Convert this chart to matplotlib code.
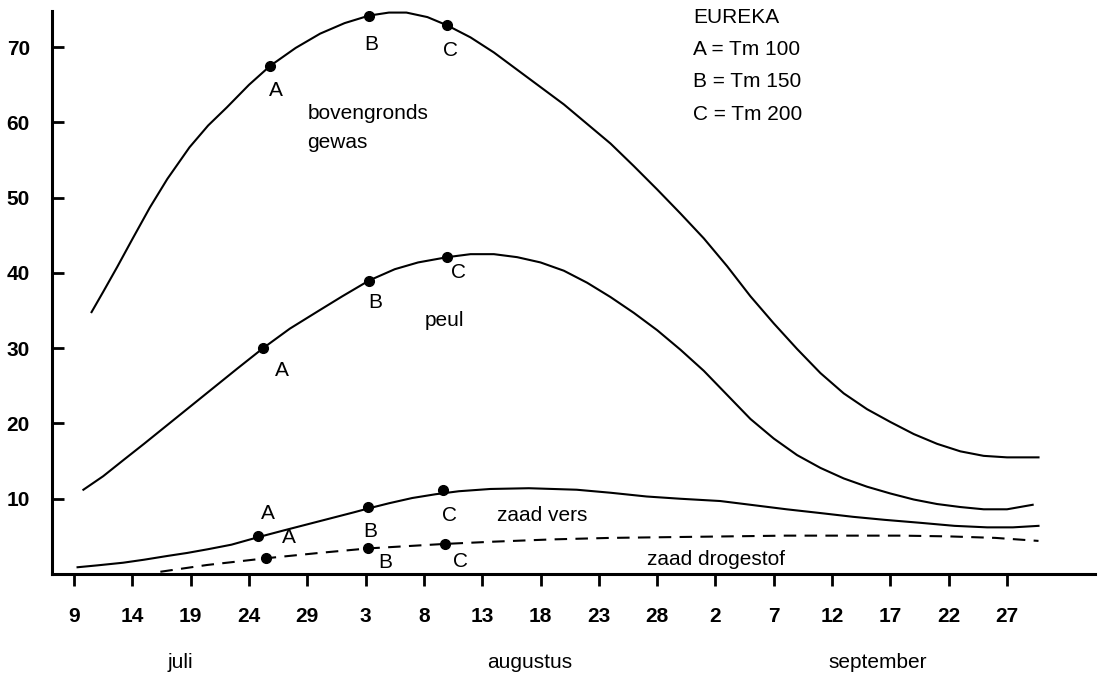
import matplotlib
matplotlib.use("Agg")
import matplotlib.pyplot as plt

plt.rcParams['font.family'] = ['Liberation Sans', 'DejaVu Sans']
plt.rcParams['font.size'] = 15

# x = day counted from 1 July (9 juli = 9, 3 augustus = 34, 2 september = 64)
tick_days = [9, 14, 19, 24, 29, 34, 39, 44, 49, 54, 59, 64, 69, 74, 79, 84, 89]
tick_labels = ['9', '14', '19', '24', '29', '3', '8', '13', '18', '23', '28',
               '2', '7', '12', '17', '22', '27']
y_ticks = [10, 20, 30, 40, 50, 60, 70]
months = ['juli', 'augustus', 'september']
month_days = [18.1, 48.1, 77.9]

# bovengronds gewas
gewas_x = [10.5, 11.5, 12.7, 14.0, 15.5, 17.0, 18.9, 20.5, 22.1, 24.0, 25.8, 28.0,
           30.1, 32.2, 34.3, 36.0, 37.5, 39.3, 41.0, 43.0, 45.0, 47.0, 49.0, 51.0,
           53.0, 55.0, 57.0, 59.0, 61.0, 63.0, 65.0, 67.0, 69.0, 71.0, 73.0, 75.0,
           77.0, 79.0, 81.0, 83.0, 85.0, 87.0, 89.0, 91.7]
gewas_y = [34.8, 37.5, 40.8, 44.5, 48.7, 52.5, 56.7, 59.6, 62.0, 65.0, 67.5, 69.9,
           71.8, 73.2, 74.2, 74.6, 74.6, 74.0, 72.9, 71.3, 69.3, 67.0, 64.7, 62.4,
           59.8, 57.2, 54.2, 51.1, 47.9, 44.6, 40.9, 36.9, 33.3, 29.9, 26.7, 24.0,
           21.9, 20.2, 18.6, 17.3, 16.3, 15.7, 15.5, 15.5]

# peul
peul_x = [9.8, 11.5, 13.2, 15.0, 17.0, 19.0, 21.0, 23.0, 25.2, 27.5, 30.0, 32.0,
          34.3, 36.5, 38.5, 41.0, 43.0, 45.0, 47.0, 49.0, 51.0, 53.0, 55.0, 57.0,
          59.0, 61.0, 63.0, 65.0, 67.0, 69.0, 71.0, 73.0, 75.0, 77.0, 79.0, 81.0,
          83.0, 85.0, 87.0, 89.0, 91.2]
peul_y = [11.2, 13.0, 15.1, 17.3, 19.8, 22.3, 24.8, 27.3, 30.0, 32.6, 35.0, 36.9,
          39.0, 40.5, 41.4, 42.1, 42.5, 42.5, 42.1, 41.4, 40.3, 38.7, 36.8, 34.7,
          32.4, 29.8, 27.0, 23.8, 20.6, 18.0, 15.8, 14.1, 12.7, 11.6, 10.7, 9.9,
          9.3, 8.9, 8.6, 8.6, 9.2]

# zaad vers
vers_x = [9.3, 11.0, 13.2, 15.0, 17.0, 18.7, 20.5, 22.5, 24.8, 27.0, 29.0, 31.0,
          33.0, 34.2, 36.0, 38.0, 40.0, 42.0, 44.7, 48.0, 52.1, 55.0, 58.1, 61.0,
          64.4, 67.0, 70.1, 73.0, 75.8, 78.5, 81.6, 84.5, 87.3, 89.5, 91.7]
vers_y = [0.9, 1.15, 1.5, 1.9, 2.4, 2.8, 3.3, 3.9, 4.9, 5.8, 6.6, 7.4,
          8.2, 8.7, 9.4, 10.1, 10.6, 11.0, 11.3, 11.4, 11.2, 10.8, 10.3, 10.0,
          9.7, 9.2, 8.6, 8.1, 7.6, 7.2, 6.8, 6.4, 6.2, 6.2, 6.4]

# zaad drogestof
droog_x = [16.4, 20.4, 25.5, 30.0, 34.2, 37.5, 40.8, 45.0, 50.0, 55.0, 60.0, 65.0,
           70.0, 75.0, 80.0, 84.0, 88.0, 91.7]
droog_y = [0.3, 1.2, 2.1, 2.8, 3.4, 3.7, 4.0, 4.3, 4.6, 4.8, 4.9, 5.0,
           5.1, 5.1, 5.1, 5.0, 4.8, 4.4]

# harvest points A, B, C
gewas_pts = ([25.8, 34.3, 41.0], [67.5, 74.2, 72.9])
peul_pts = ([25.2, 34.3, 41.0], [30.0, 39.0, 42.1])
vers_pts = ([24.8, 34.2, 40.6], [5.0, 8.9, 11.2])
droog_pts = ([25.5, 34.2, 40.8], [2.1, 3.4, 4.0])

point_names = ['A', 'B', 'C']
gewas_lab = ([26.3, 34.5, 41.3], [64.3, 70.4, 69.6])
peul_lab = ([26.8, 34.8, 42.0], [27.1, 36.1, 40.1])
vers_lab = ([25.6, 34.4, 41.2], [8.1, 5.6, 7.8])
droog_lab = ([27.4, 35.7, 42.1], [4.8, 1.5, 1.6])

fig = plt.figure(figsize=(11.02, 6.75), dpi=100)
ax = fig.add_axes([0.0472, 0.1496, 0.9465, 0.834])

ax.plot(gewas_x, gewas_y, color='k', lw=1.5)
ax.plot(peul_x, peul_y, color='k', lw=1.5)
ax.plot(vers_x, vers_y, color='k', lw=1.5)
ax.plot(droog_x, droog_y, color='k', lw=1.5, dashes=(6, 4))

for pts in [gewas_pts, peul_pts, vers_pts, droog_pts]:
    ax.plot(pts[0], pts[1], 'o', color='k', ms=7, ls='none')

for lab in [gewas_lab, peul_lab, vers_lab, droog_lab]:
    for name, lx, ly in zip(point_names, lab[0], lab[1]):
        ax.text(lx, ly, name, ha='center', va='center')

ax.text(29.0, 61.2, 'bovengronds', va='center')
ax.text(29.0, 57.4, 'gewas', va='center')
ax.text(39.1, 33.7, 'peul', va='center')
ax.text(45.3, 7.8, 'zaad vers', va='center')
ax.text(58.1, 1.9, 'zaad drogestof', va='center')

legend_lines = ['EUREKA', 'A = Tm 100', 'B = Tm 150', 'C = Tm 200']
for i, line in enumerate(legend_lines):
    ax.text(62.1, 74.0 - i * 4.3, line, va='center')

for name, d in zip(months, month_days):
    ax.text(d, -11.8, name, ha='center', va='center', clip_on=False)

ax.set_xlim(7.11, 96.55)
ax.set_ylim(0, 74.8)
ax.set_xticks(tick_days)
ax.set_xticklabels(tick_labels, fontweight='bold', fontsize=15)
ax.set_yticks(y_ticks)
ax.set_yticklabels([str(v) for v in y_ticks], fontweight='bold', fontsize=15)

ax.spines['top'].set_visible(False)
ax.spines['right'].set_visible(False)
ax.spines['left'].set_linewidth(2.2)
ax.spines['bottom'].set_linewidth(2.2)
ax.xaxis.set_tick_params(direction='out', length=8.5, width=2, pad=15)
ax.yaxis.set_tick_params(direction='in', length=8.5, width=2, pad=16)

plt.savefig('out.png', dpi=100)
